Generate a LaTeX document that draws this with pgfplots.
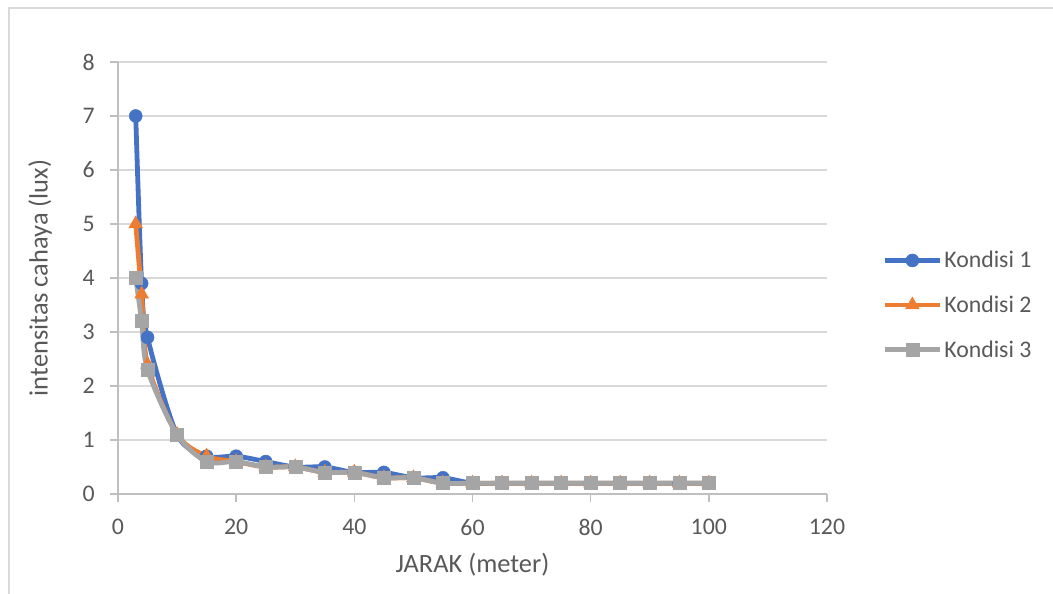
\documentclass[border=0pt]{standalone}
\usepackage{fontspec}
\setmainfont{Carlito}
\usepackage{pgfplots}
\pgfplotsset{compat=1.18}
\definecolor{k1}{HTML}{4472C4}
\definecolor{k2}{HTML}{ED7D31}
\definecolor{k3}{HTML}{A5A5A5}
\definecolor{txt}{HTML}{595959}
\definecolor{axln}{HTML}{BFBFBF}
\definecolor{grd}{HTML}{D9D9D9}

\begin{document}
\begin{tikzpicture}[x=1pt,y=1pt]
\useasboundingbox (0,0) rectangle (1053,594);
\draw[grd, line width=1.5pt] (9,0) -- (9,586) -- (1053,586);
\begin{axis}[
  at={(118pt,100pt)}, anchor=south west,
  scale only axis, width=709pt, height=432pt,
  xmin=0, xmax=120, ymin=0, ymax=8,
  xtick={0,20,...,120}, ytick={0,1,...,8},
  axis lines=left, axis line style={-, axln, line width=1.5pt},
  ymajorgrids, grid style={grd, line width=1.5pt},
  tick align=outside, major tick length=8pt,
  tick style={axln, line width=1.5pt},
  /pgf/number format/assume math mode=true,
  tick label style={font=\fontsize{23.8}{28}\selectfont, text=txt, inner sep=0pt},
  yticklabel style={xshift=-15pt},
  xticklabel style={yshift=-17pt},
  label style={font=\fontsize{26.4}{31}\selectfont, text=txt},
  xlabel={JARAK (meter)}, ylabel={intensitas cahaya (lux)},
  xlabel style={at={(axis description cs:0.5,-0.164)}, anchor=center},
  ylabel style={at={(axis description cs:-0.110,0.5)}, anchor=center},
  legend style={at={(1.078,0.4375)}, anchor=west, draw=none, fill=none,
    inner sep=0pt, font=\fontsize{23.8}{28}\selectfont, text=txt,
    row sep=22.5pt},
  legend cell align=left,
  legend image code/.code={\draw[mark repeat=2,mark phase=2]
    plot coordinates {(0pt,0pt) (27.5pt,0pt) (55pt,0pt)};},
  every axis plot/.append style={line width=4.8pt, smooth, tension=0.5},
]
\addplot[k1, mark=*, mark size=6.5pt, mark options={fill=k1, draw=k1, line width=0.5pt}]
  coordinates {(3,7) (4,3.9) (5,2.9) (10,1.1) (15,0.7) (20,0.7) (25,0.6) (30,0.5)
   (35,0.5) (40,0.4) (45,0.4) (50,0.3) (55,0.3) (60,0.2) (65,0.2) (70,0.2)
   (75,0.2) (80,0.2) (85,0.2) (90,0.2) (95,0.2) (100,0.2)};
\addlegendentry{Kondisi 1}
\addplot[k2, mark=triangle*, mark size=8pt, mark options={fill=k2, draw=k2, line width=0.5pt}]
  coordinates {(3,5) (4,3.7) (5,2.4) (10,1.1) (15,0.7) (20,0.6) (25,0.5) (30,0.5)
   (35,0.4) (40,0.4) (45,0.3) (50,0.3) (55,0.2) (60,0.2) (65,0.2) (70,0.2)
   (75,0.2) (80,0.2) (85,0.2) (90,0.2) (95,0.2) (100,0.2)};
\addlegendentry{Kondisi 2}
\addplot[k3, mark=square*, mark size=6.5pt, mark options={fill=k3, draw=k3, line width=0.5pt}]
  coordinates {(3,4) (4,3.2) (5,2.3) (10,1.1) (15,0.6) (20,0.6) (25,0.5) (30,0.5)
   (35,0.4) (40,0.4) (45,0.3) (50,0.3) (55,0.2) (60,0.2) (65,0.2) (70,0.2)
   (75,0.2) (80,0.2) (85,0.2) (90,0.2) (95,0.2) (100,0.2)};
\addlegendentry{Kondisi 3}
\end{axis}
\end{tikzpicture}
\end{document}
